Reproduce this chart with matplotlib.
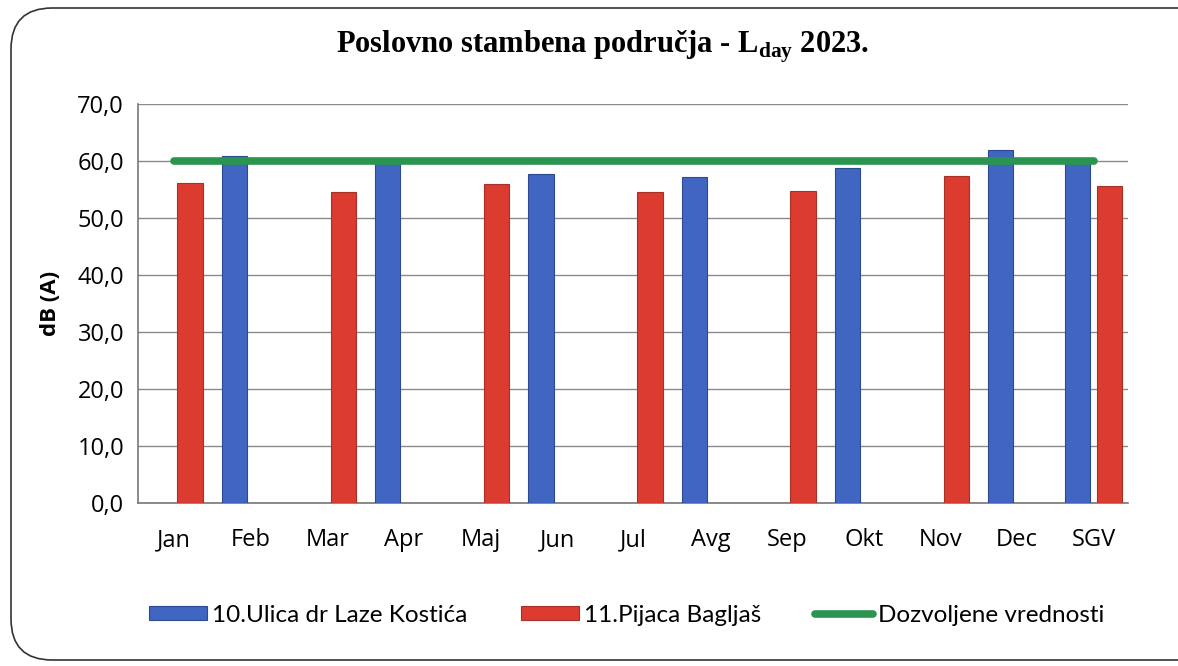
import matplotlib.pyplot as plt
import numpy as np
from matplotlib.patches import FancyBboxPatch

plt.rcParams['mathtext.fontset'] = 'custom'
plt.rcParams['mathtext.rm'] = 'Liberation Serif:bold'

meseci = ['Jan', 'Feb', 'Mar', 'Apr', 'Maj', 'Jun', 'Jul', 'Avg', 'Sep', 'Okt', 'Nov', 'Dec', 'SGV']
# 10.Ulica dr Laze Kostica (merenja svaki drugi mesec)
kostica = [np.nan, 60.9, np.nan, 59.9, np.nan, 57.8, np.nan, 57.2, np.nan, 58.7, np.nan, 61.9, 59.8]
# 11.Pijaca Bagljas
bagljas = [56.1, np.nan, 54.6, np.nan, 56.0, np.nan, 54.6, np.nan, 54.8, np.nan, 57.4, np.nan, 55.7]
dozvoljeno = [60.0] * len(meseci)
y_ticks = [0, 10, 20, 30, 40, 50, 60, 70]

fig = plt.figure(figsize=(11.78, 6.66), dpi=100)
fig.patch.set_facecolor('white')

# okvir oko grafikona
okvir = FancyBboxPatch((11/1178, 6/666), 1.05, 1 - 14/666, boxstyle='round,pad=0,rounding_size=0.035',
                       transform=fig.transFigure, facecolor='none', edgecolor='#333333', lw=1.2,
                       mutation_aspect=1178/666, zorder=-1)
fig.patches.append(okvir)

ax = fig.add_axes([138/1178, 1 - 503/666, (1128 - 138)/1178, (503 - 104)/666])
ax.set_facecolor('none')
x = np.arange(len(meseci))
w = 0.33
off = 0.21

b1 = ax.bar(x - off, kostica, w, color='#4166c2', edgecolor='#2b4a92', lw=0.8, zorder=3,
            label='10.Ulica dr Laze Kostića')
b2 = ax.bar(x + off, bagljas, w, color='#dc3b30', edgecolor='#a93027', lw=0.8, zorder=3,
            label='11.Pijaca Bagljaš')
l1, = ax.plot(x, dozvoljeno, color='#2a9450', lw=5.5, solid_capstyle='round', zorder=4,
              label='Dozvoljene vrednosti')

ax.set_xlim(-0.47, 12.45)
ax.set_ylim(0, 70)
ax.set_yticks(y_ticks)
ax.set_yticklabels([f'{v:.1f}'.replace('.', ',') for v in y_ticks], fontsize=17, family='Open Sans')
ax.set_xticks(x)
ax.set_xticklabels(meseci, fontsize=17, family='Open Sans')
ax.tick_params(length=0, pad=10)
ax.tick_params(axis='x', pad=18)
ax.grid(axis='y', color='#8a8a8a', lw=1, zorder=0)
for s in ['top', 'right']:
    ax.spines[s].set_visible(False)
for s in ['left', 'bottom']:
    ax.spines[s].set_color('#777777')
    ax.spines[s].set_linewidth(1.2)

ax.set_ylabel('dB (A)', fontsize=16, fontweight='bold', family='Open Sans', labelpad=12)

fig.text(0.512, 1 - 47/666, r'Poslovno stambena područja - L$_{\mathrm{day}}$ 2023.',
         ha='center', va='center', fontsize=22, fontweight='bold', family='Liberation Serif')

fig.legend([b1, b2, l1], [b1.get_label(), b2.get_label(), l1.get_label()],
           loc='center', bbox_to_anchor=(0.532, 1 - 615/666), ncol=3, frameon=False,
           prop={'family': 'Lato', 'size': 17.5},
           handlelength=2.4, handleheight=0.55, columnspacing=2.2, handletextpad=0.2)

fig.savefig('out.png', dpi=100)
